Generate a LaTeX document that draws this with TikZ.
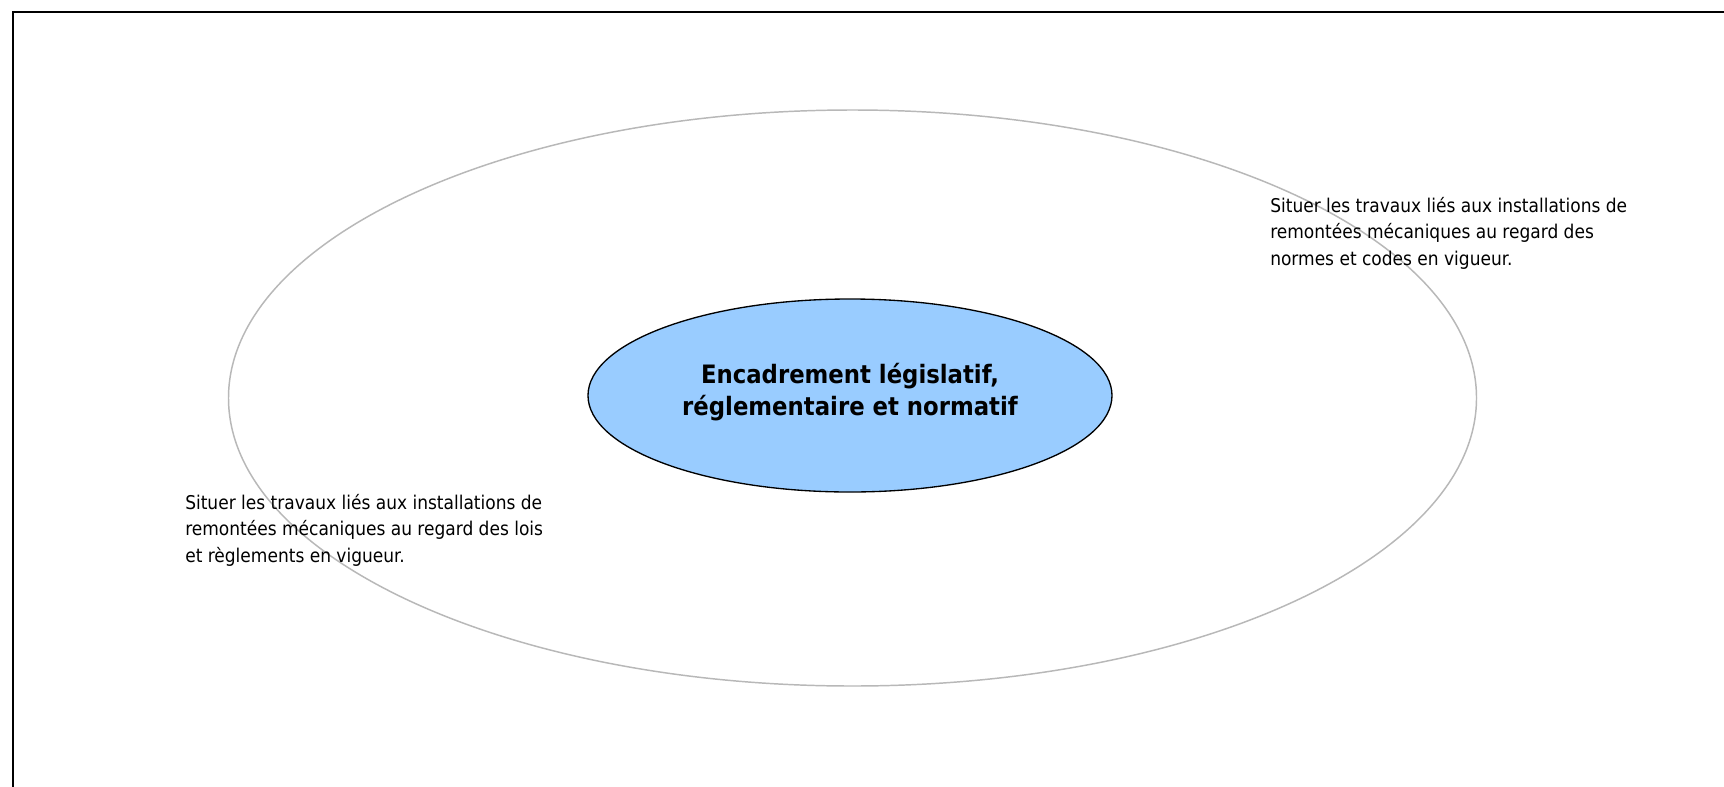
\documentclass[tikz,border=0pt]{standalone}
\usepackage{fontspec}
\setmainfont{DejaVu Sans Condensed}
\usetikzlibrary{shapes.geometric}
\begin{document}
\begin{tikzpicture}[x=0.75pt,y=-0.75pt,
  outer/.style={draw=black!28,line width=1.1pt},
  core/.style={draw=black,line width=1pt,fill=coreblue},
  note/.style={inner sep=0pt,align=left,anchor=north west,font=\fontsize{14.2}{19.8}\selectfont}]
\definecolor{coreblue}{HTML}{99CCFF}
\useasboundingbox (0,0) rectangle (1724,786);
\clip (0,0) rectangle (1724,786);
\fill[white] (0,0) rectangle (1724,786);
\draw[line width=1.5pt] (13,12) rectangle (1760,820);
\draw[outer] (852.5,398) ellipse [x radius=624, y radius=288];
\draw[core] (850,395.5) ellipse [x radius=262, y radius=96.5];
\node[align=center,font=\bfseries\fontsize{19}{24}\selectfont] (core) at (850,392) {Encadrement législatif,\\réglementaire et normatif};
\node[note] (normes) at (1270,197) {Situer les travaux liés aux installations de\\remontées mécaniques au regard des\\normes et codes en vigueur.};
\node[note] (lois) at (185,494) {Situer les travaux liés aux installations de\\remontées mécaniques au regard des lois\\et règlements en vigueur.};
\end{tikzpicture}
\end{document}
